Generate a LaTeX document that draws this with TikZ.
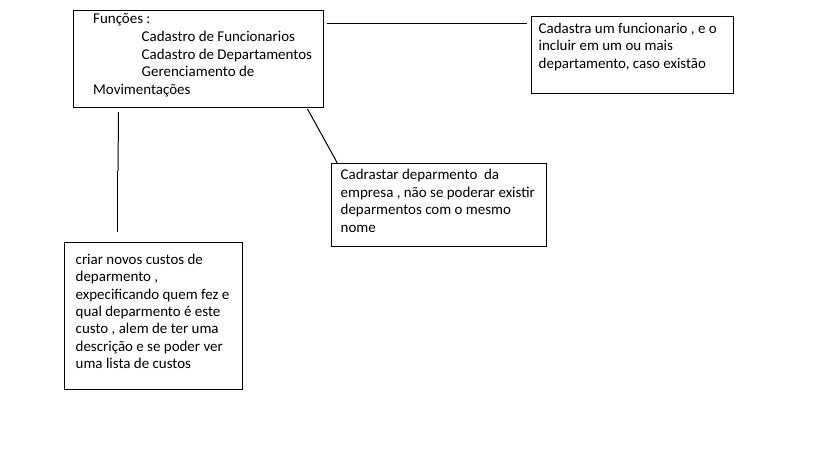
\documentclass[tikz,border=0pt]{standalone}
\usepackage{fontspec}
\setmainfont{Carlito}
\begin{document}
\begin{tikzpicture}[x=1pt,y=-1pt,
  box/.style={draw=black,line width=1pt,inner sep=0pt,anchor=north west},
  txt/.style={inner sep=0pt,anchor=base west,align=left,text=black,
    font=\fontsize{14.95}{17.7}\selectfont},
  link/.style={draw=black,line width=1pt}]
\useasboundingbox[fill=white] (0,0) rectangle (819,460);
% boxes
\node[box,minimum width=250,minimum height=96] (main) at (72.5,10.5) {};
\node[box,minimum width=202,minimum height=76] (cad) at (530.5,16.5) {};
\node[box,minimum width=215,minimum height=83] (dep) at (330.5,163) {};
\node[box,minimum width=178,minimum height=147] (cus) at (63.5,242) {};
% texts (base anchor = baseline of the last line)
\node[txt] (t1) at (93,23.5) {Funções :};
\node[txt,font=\fontsize{14.95}{17.7}\selectfont] (t2) at (141.5,76.9) {Cadastro de Funcionarios\\Cadastro de Departamentos\\Gerenciamento de};
\node[txt] (t3) at (93,94.5) {Movimentações};
\node[txt,font=\fontsize{14.95}{17.5}\selectfont] (tcad) at (538.5,68.5) {Cadastra um funcionario , e o\\incluir em um ou mais\\departamento, caso existão};
\node[txt,font=\fontsize{14.95}{17.4}\selectfont] (tdep) at (340.5,232) {Cadrastar deparmento~ da\\empresa , não se poderar existir\\deparmentos com o mesmo\\nome};
\node[txt,font=\fontsize{14.95}{17.4}\selectfont] (tcus) at (75.5,368.7) {criar novos custos de\\deparmento ,\\expecificando quem fez e\\qual deparmento é este\\custo , alem de ter uma\\descrição e se poder ver\\uma lista de custos};
% connectors
\coordinate (a1) at ([shift={(3,13.5)}]main.north east);
\coordinate (a2) at ([shift={(-3.5,7.5)}]cad.north west);
\draw[link] (a1) -- (a2);
\coordinate (b1) at ([shift={(-16,1.5)}]main.south east);
\coordinate (b2) at ([shift={(6.8,0)}]dep.north west);
\draw[link] (b1) -- (b2);
\coordinate (c1) at ([shift={(46,4.5)}]main.south west);
\coordinate (c2) at ([shift={(45.5,0)}]main.south west |- 0,171);
\coordinate (c3) at ([shift={(-0.5,0)}]c2);
\coordinate (c4) at ([shift={(54,-10.5)}]cus.north west);
\draw[link] (c1) -- (c2);
\draw[link] (c3) -- (c4);
\end{tikzpicture}
\end{document}
